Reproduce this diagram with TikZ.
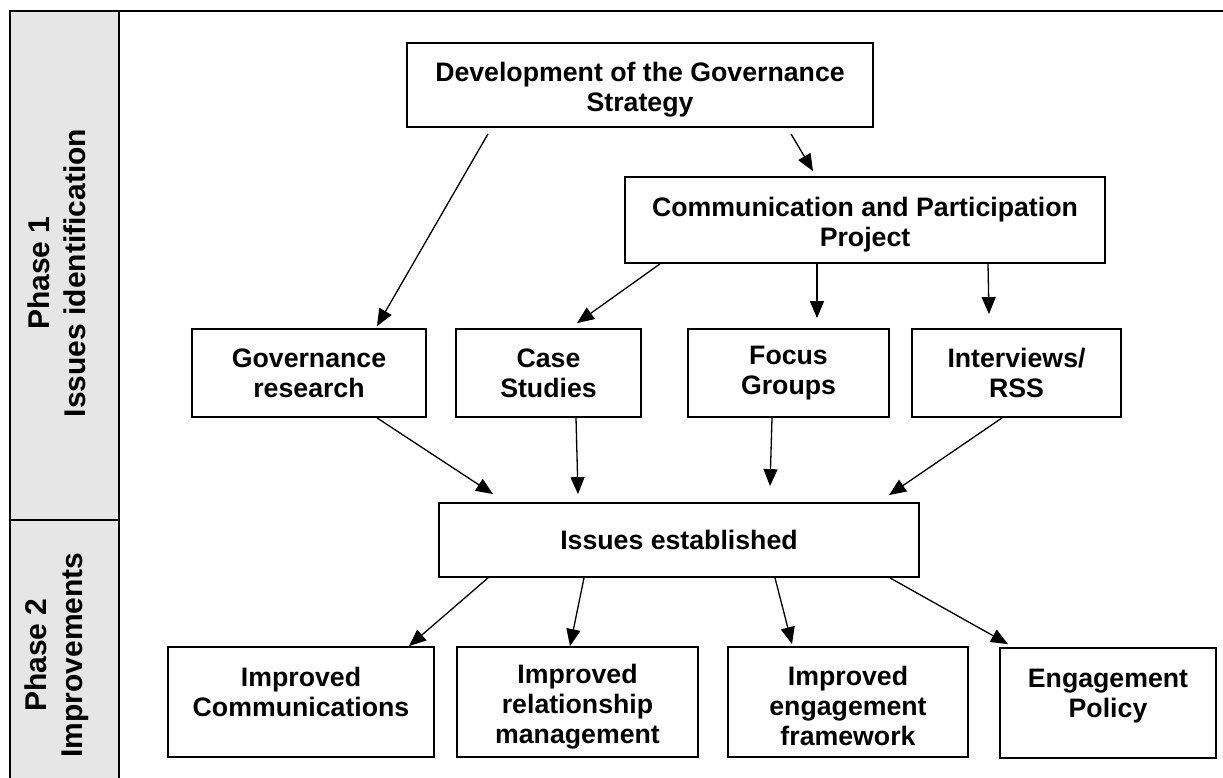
\documentclass[tikz,border=0pt]{standalone}
\usepackage{fontspec}
\setmainfont{Liberation Sans}
\usetikzlibrary{arrows.meta}
\definecolor{phasegray}{HTML}{E6E6E6}
% extra room above the first line, pushes the text a little lower
\newcommand{\lowtext}{\rule{0pt}{28pt}}

\begin{document}
\begin{tikzpicture}[x=1pt,y=-1pt,>={Triangle[length=17pt,width=14pt]},
	box node/.style 2 args={draw,line width=1.8pt,align=center,inner sep=0pt,
		minimum width=#1,minimum height=#2,font=\fontsize{26.7}{30}\selectfont\bfseries},
	phase node/.style={rotate=90,align=center,font=\fontsize{30}{36}\selectfont\bfseries}]
	
	\useasboundingbox (0,0) rectangle (1223,778);
	
	% phase column
	\fill[phasegray] (10,11) rectangle (119,778);
	\draw[line width=2pt] (10,778) -- (10,11) -- (1223,11);
	\draw[line width=2pt] (119,11) -- (119,778);
	\draw[line width=2pt] (10,520) -- (119,520);
	\node[phase node] (ph1) at (57,273) {Phase 1\\Issues identification};
	\node[phase node] (ph2) at (57,655) {Phase 2\\Improvements};
	
	\node[box node={466pt}{84pt}] (dev) at (640,85) {\lowtext Development of the Governance\\Strategy};
	\node[box node={480pt}{86pt}] (comm) at (865,220) {\lowtext Communication and Participation\\Project};
	
	\node[box node={234pt}{88pt}] (govres) at (309,373) {Governance\\research};
	\node[box node={185pt}{88pt}] (case) at (548.5,373) {Case\\Studies};
	\node[box node={201pt}{88pt}] (focus) at (788.5,373) {Focus\\Groups};
	\node[box node={209pt}{88pt}] (interv) at (1016.5,373) {Interviews/\\RSS};
	
	\node[box node={480pt}{74pt}] (issues) at (679,540) {Issues established};
	
	\node[box node={266pt}{110pt}] (impcomm) at (301,702) {\lowtext Improved\\Communications\\~};
	\node[box node={241pt}{110pt}] (imprel) at (577.5,702) {\lowtext Improved\\relationship\\management};
	\node[box node={240pt}{110pt}] (impeng) at (848,702) {\lowtext Improved\\engagement\\framework};
	\node[box node={216pt}{110pt}] (engpol) at (1108,703) {\lowtext Engagement\\Policy\\~};
	
	\path[->,line width=1.3pt]
	([xshift=-152pt,yshift=-6pt]dev.south) edge ([xshift=68pt,yshift=2pt]govres.north)
	([xshift=151pt,yshift=-6pt]dev.south) edge ([xshift=-52pt,yshift=5pt]comm.north)
	([xshift=-205pt]comm.south) edge ([xshift=28.5pt,yshift=5pt]case.north)
	([xshift=-48pt]comm.south) edge ([xshift=28.5pt,yshift=10pt]focus.north)
	([xshift=123pt]comm.south) edge ([xshift=-27.5pt,yshift=14pt]interv.north)
	([xshift=68pt]govres.south) edge ([xshift=-186pt,yshift=8pt]issues.north)
	([xshift=27.5pt]case.south) edge ([xshift=-101pt,yshift=8pt]issues.north)
	([xshift=-16.5pt]focus.south) edge ([xshift=91pt,yshift=16pt]issues.north)
	([xshift=-14.5pt]interv.south) edge ([xshift=210pt,yshift=7pt]issues.north)
	([xshift=-191pt]issues.south) edge ([xshift=108pt]impcomm.north)
	([xshift=-95pt]issues.south) edge ([xshift=-7.5pt]imprel.north)
	([xshift=96pt]issues.south) edge ([xshift=-56pt,yshift=2pt]impeng.north)
	([xshift=211pt]issues.south) edge ([xshift=-100pt,yshift=3pt]engpol.north);
\end{tikzpicture}
\end{document}
